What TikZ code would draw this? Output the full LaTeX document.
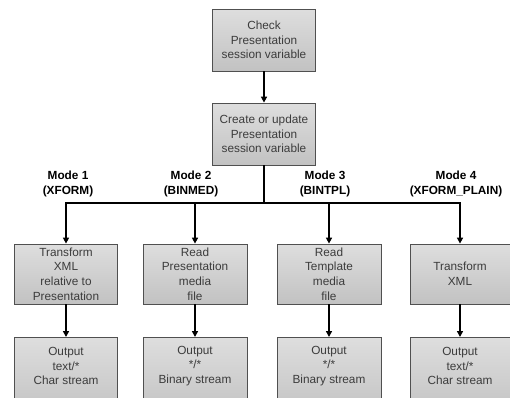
\documentclass[tikz,border=0pt]{standalone}
\usepackage{fontspec}
\setmainfont{Liberation Sans}
\usetikzlibrary{arrows.meta}
\definecolor{boxtext}{HTML}{3C3C3C}
\definecolor{boxline}{HTML}{505050}
\tikzset{
  stepbox/.style={draw=boxline, line width=0.8bp, rectangle,
    top color=black!13, middle color=white, bottom color=black!24,
    inner sep=0pt, text=boxtext, align=center,
    font=\fontsize{11.8bp}{14.6bp}\selectfont},
  boxtxt/.style={text=boxtext, align=center,
    font=\fontsize{11.8bp}{14.6bp}\selectfont, inner sep=0pt},
  modelbl/.style={align=center, font=\fontsize{11.8bp}{15.5bp}\selectfont\bfseries, inner sep=0pt},
  flow/.style={line width=2bp, draw=black},
  flowarr/.style={flow, -{Triangle[length=6bp,width=6bp]}},
}
\begin{document}
\begin{tikzpicture}[x=1bp, y=-1bp]
\useasboundingbox (0,0) rectangle (510,397);
% top chain
\node[stepbox, minimum width=103bp, minimum height=62bp] (check) at (264,40)
  {Check\\Presentation\\session variable};
\node[stepbox, minimum width=103bp, minimum height=62bp] (create) at (264,134)
  {Create or update\\Presentation\\session variable};
\draw[flowarr] (check) -- (create);
% branch point
\coordinate (split) at (264,203);
\draw[flow] (create) -- (split);
% mode labels
\node[modelbl] (mode1) at (68,184) {Mode 1\\(XFORM)};
\node[modelbl] (mode2) at (191,184) {Mode 2\\(BINMED)};
\node[modelbl] (mode3) at (325,184) {Mode 3\\(BINTPL)};
\node[modelbl] (mode4) at (456,184) {Mode 4\\(XFORM\_PLAIN)};
% processing boxes
\node[stepbox, minimum width=103bp, minimum height=60bp] (proc1) at (66,274)
  {Transform\\XML\\relative to\\Presentation};
\node[stepbox, minimum width=104bp, minimum height=60bp] (proc2) at (195,274)
  {Read\\Presentation\\media\\file};
\node[stepbox, minimum width=104bp, minimum height=60bp] (proc3) at (329,274)
  {Read\\Template\\media\\file};
\node[stepbox, minimum width=100bp, minimum height=60bp] (proc4) at (460,274)
  {Transform\\XML};
\foreach \p in {proc1,proc2,proc3,proc4}
  \draw[flowarr] (split) -| (\p);
% output boxes (run past the lower edge)
\node[stepbox, minimum width=103bp, minimum height=80bp, anchor=north] (out1) at (66,337) {};
\node[stepbox, minimum width=104bp, minimum height=80bp, anchor=north] (out2) at (195,337) {};
\node[stepbox, minimum width=104bp, minimum height=80bp, anchor=north] (out3) at (329,337) {};
\node[stepbox, minimum width=100bp, minimum height=80bp, anchor=north] (out4) at (460,337) {};
\node[boxtxt] (out1t) at (66,366) {Output\\text/*\\Char stream};
\node[boxtxt] (out2t) at (195,366) {Output\\*/*\\Binary stream};
\node[boxtxt] (out3t) at (329,366) {Output\\*/*\\Binary stream};
\node[boxtxt] (out4t) at (460,366) {Output\\text/*\\Char stream};
\foreach \i in {1,2,3,4}
  \draw[flowarr] (proc\i) -- (out\i);
\end{tikzpicture}
\end{document}
